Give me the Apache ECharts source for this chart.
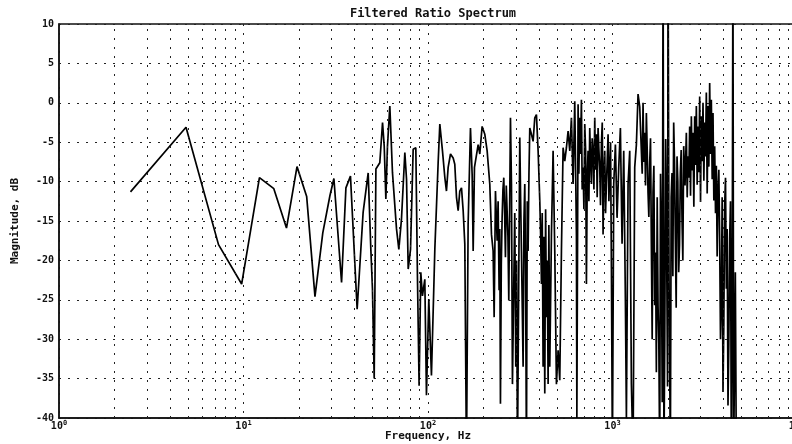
<!DOCTYPE html>
<html>
<head>
<meta charset="utf-8">
<title>Filtered Ratio Spectrum</title>
<script src="https://cdn.jsdelivr.net/npm/echarts@6/dist/echarts.min.js"></script>
<style>
  html, body { margin: 0; padding: 0; background: #fff; }
  #chart { width: 792px; height: 444px; }
</style>
</head>
<body>
<div id="chart"></div>
<script>
// magnitude spectrum, in three frequency bands

// below ~115 Hz
const lowHz = [
  2.44, 4.88, 7.32, 9.77, 12.2, 14.6, 17.1, 19.5, 22.0, 24.4,
  26.9, 29.4, 30.9, 34.0, 35.9, 38.0, 41.3, 44.5, 47.4, 49.0,
  50.0, 51.1, 52.2, 54.8, 56.7, 57.9, 59.1, 60.3, 62.1, 64.2,
  67.5, 69.5, 71.8, 74.9, 76.5, 78.1, 80.4, 83.1, 85.9, 87.7,
  89.5, 91.4, 93.3, 96.1, 98.1, 101.0, 104.4, 108.9, 113.5
];
const lowDb = [
  -11.3, -3.1, -18.0, -23.0, -9.5, -10.9, -15.9, -8.1, -11.9, -24.6,
  -16.5, -11.8, -9.6, -22.8, -10.8, -9.3, -26.2, -13.9, -8.9, -18.6,
  -23.6, -35.0, -8.4, -7.6, -2.5, -5.5, -12.2, -5.5, -0.4, -8.9,
  -16.0, -18.6, -14.8, -6.3, -9.7, -21.1, -18.6, -5.9, -5.7, -22.4,
  -35.9, -21.5, -24.5, -22.4, -37.1, -24.9, -34.6, -18.6, -7.6
];

// ~115 Hz to 1.4 kHz
const midHz = [
  115.9, 119.8, 123.4, 125.9, 128.6, 132.4, 136.9, 139.7, 142.7, 145.7,
  148.7, 151.9, 155.1, 158.3, 161.6, 165.0, 169.9, 173.5, 175.7, 178.6,
  183.1, 187.0, 190.9, 196.5, 203.2, 209.2, 216.2, 220.8, 225.4, 228.3,
  232.1, 237.0, 239.9, 242.9, 244.9, 247.0, 249.6, 252.2, 254.8, 257.5,
  260.2, 262.9, 265.6, 268.4, 271.2, 274.1, 279.9, 283.4, 286.9, 291.7,
  295.3, 299.1, 302.2, 305.4, 310.0, 314.4, 317.6, 321.0, 324.3, 327.7,
  331.1, 334.6, 338.1, 341.7, 345.2, 348.8, 352.5, 356.2, 363.7, 371.3,
  379.1, 387.0, 395.2, 403.5, 408.0, 412.0, 416.0, 420.6, 425.0, 429.5,
  434.0, 438.5, 443.0, 447.7, 452.0, 457.1, 462.0, 466.7, 476.5, 486.5,
  496.7, 507.2, 517.8, 528.7, 539.8, 551.2, 562.7, 574.5, 586.6, 598.9,
  611.5, 624.4, 637.5, 641.0, 650.9, 657.0, 664.6, 671.0, 678.5, 685.0,
  692.7, 700.0, 707.3, 715.0, 722.2, 730.0, 737.3, 745.0, 752.8, 760.0,
  768.7, 776.0, 784.8, 793.0, 801.3, 809.0, 818.1, 826.0, 835.3, 844.0,
  852.8, 861.0, 870.7, 880.0, 889.0, 898.0, 907.7, 917.0, 926.8, 936.0,
  946.3, 956.0, 966.2, 976.0, 986.5, 998.9, 1015.6, 1036.9, 1058.7, 1080.9,
  1103.6, 1126.8, 1150.5, 1174.6, 1189.4, 1214.4, 1239.9, 1266.0, 1292.4, 1319.6,
  1347.3, 1375.6, 1404.6
];
const midDb = [
  -2.7, -6.1, -9.5, -11.2, -8.2, -6.5, -7.0, -7.8, -12.0, -13.7,
  -11.2, -10.8, -13.7, -17.9, -45.0, -15.4, -3.2, -9.1, -18.8, -8.2,
  -8.2, -5.3, -6.5, -3.0, -4.0, -6.1, -10.3, -16.7, -18.8, -27.2,
  -11.2, -17.5, -12.5, -23.8, -16.0, -38.2, -20.5, -14.6, -11.0, -9.5,
  -14.0, -19.6, -10.5, -13.7, -17.0, -25.1, -1.9, -10.3, -35.7, -23.0,
  -14.0, -33.5, -20.0, -45.0, -24.0, -4.4, -12.0, -18.8, -26.0, -33.5,
  -15.0, -10.3, -22.0, -45.0, -12.5, -18.8, -9.0, -3.2, -4.0, -4.9,
  -1.9, -1.5, -6.1, -12.4, -17.0, -23.0, -14.0, -33.5, -17.0, -36.9,
  -13.5, -27.2, -20.0, -35.7, -15.5, -33.5, -25.0, -16.7, -6.1, -18.8,
  -35.7, -31.4, -35.2, -18.8, -5.7, -7.4, -5.7, -3.6, -6.1, -1.9,
  -10.3, 0.2, -16.7, -40.0, -0.2, -9.0, -1.9, -6.5, 0.4, -11.0,
  -8.2, -13.5, -2.7, -6.0, -23.0, -9.0, -6.1, -12.5, -3.2, -7.0,
  -10.3, -4.5, -6.1, -11.0, -1.9, -8.5, -4.0, -12.0, -3.2, -6.0,
  -8.2, -13.0, -5.3, -2.5, -16.7, -9.0, -6.1, -14.0, -10.3, -7.5,
  -4.0, -12.5, -8.2, -5.0, -20.9, -45.0, -10.3, -5.3, -14.6, -8.2,
  -3.2, -17.9, -6.1, -25.1, -40.0, -10.3, -6.1, -35.7, -45.0, -8.2,
  -5.3, 1.1, -0.5
];

// 1.4 kHz up to the end of the record
const highHz = [
  1433.8, 1449, 1464.0, 1479, 1494.7, 1510, 1526.1, 1542, 1558.2, 1574,
  1590.9, 1607, 1624.4, 1641, 1658.4, 1676, 1693.2, 1711, 1728.8, 1747,
  1765.1, 1783, 1802.3, 1821, 1840.1, 1860, 1880, 1900, 1920, 1942.4,
  1958, 1974.9, 1988, 2000, 2024.7, 2058.8, 2080, 2101.9, 2124, 2146.1,
  2168, 2191.2, 2214, 2237.2, 2260, 2284.2, 2308, 2332.2, 2356, 2381.3,
  2406, 2431.3, 2472, 2513.4, 2540, 2566.2, 2593, 2620.2, 2648, 2675.3,
  2703, 2731.5, 2760, 2789.0, 2818, 2847.6, 2877, 2907.4, 2938, 2968.5,
  3000, 3030.9, 3062, 3094.3, 3127, 3159.3, 3192, 3225.7, 3260, 3293.5,
  3328, 3362.7, 3398, 3433.4, 3470, 3505.6, 3542, 3579.2, 3617, 3654.5,
  3692, 3731.3, 3770, 3809.3, 3849, 3889.4, 3930, 3971.1, 4012, 4054.6,
  4097, 4139.8, 4183, 4226.8, 4271, 4315.6, 4360, 4406.3, 4450, 4495.0,
  4536.4, 4631.8, 4689.6
];
const highDb = [
  -0.4, -9.0, 0.0, -7.5, -3.8, -10.5, -1.3, -6.0, -11.4, -14.5,
  -7.6, -4.5, -18.1, -30.0, -11.4, -8.0, -25.7, -19.0, -34.2, -12.0,
  -25.7, -30.5, -45.0, -9.0, -17.3, -38.0, 20.0, -45.0, -30.0, -4.6,
  -12.0, -25.7, -36.0, 20.0, -22.0, -45.0, -12.0, -8.9, -22.0, -2.5,
  -7.5, -17.3, -26.0, -6.8, -10.0, -21.5, -18.0, -8.9, -6.0, -14.8,
  -20.0, -5.5, -10.5, -3.8, -12.0, -6.8, -9.5, -3.0, -11.8, -1.7,
  -8.6, -3.8, -13.2, -1.7, -7.9, -0.4, -10.4, -3.0, -8.8, 0.8,
  -12.6, -1.7, -7.4, 0.0, -9.9, -2.5, -6.8, 1.3, -11.5, -0.4,
  -8.1, 2.5, -6.5, 0.4, -9.7, -1.3, -12.4, -5.5, -14.0, -8.0,
  -19.5, -11.0, -8.5, -17.3, -30.0, -25.7, -12.0, -36.7, -28.0, -13.1,
  -9.5, -23.6, -16.0, -38.4, -30.5, -17.3, -12.5, -45.0, -30.0, 20.0,
  -45.0, -21.5, -45.0
];

// dotted grid positions between the decades
const minorGridHz = [
  2, 3, 4, 5, 6, 7, 8, 9,
  20, 30, 40, 50, 60, 70, 80, 90,
  200, 300, 400, 500, 600, 700, 800, 900,
  2000, 3000, 4000, 5000, 6000, 7000, 8000, 9000
];
const yRange = { min: -40, max: 10, step: 5 };

const freqHz = lowHz.concat(midHz, highHz);
const magDb = lowDb.concat(midDb, highDb);

const chart = echarts.init(document.getElementById('chart'));

const font = '"DejaVu Sans Mono", monospace';
const ink = '#111';
const dotted = { color: '#222', width: 1, type: [2, 7] };

const option = {
  animation: false,
  backgroundColor: '#fff',
  title: {
    text: 'Filtered Ratio Spectrum',
    left: 428,
    textAlign: 'center',
    top: 3,
    textStyle: { fontFamily: font, fontSize: 12, fontWeight: 'bold', color: ink }
  },
  grid: {
    left: 59,
    right: -5,
    top: 24,
    bottom: 26,
    containLabel: false,
    outerBoundsMode: 'none',
    show: true,
    borderColor: ink,
    borderWidth: 1.5
  },
  xAxis: {
    type: 'log',
    logBase: 10,
    min: 1,
    max: 10000,
    name: 'Frequency, Hz',
    nameLocation: 'middle',
    nameGap: 13,
    nameMoveOverlap: false,
    nameTextStyle: { fontFamily: font, fontSize: 11, fontWeight: 'bold', color: ink },
    axisLine: { onZero: false, lineStyle: { color: ink, width: 1.5 } },
    axisTick: { show: false },
    splitLine: { show: true, lineStyle: dotted },
    axisLabel: {
      margin: 2,
      formatter: function (v) {
        const e = Math.round(Math.log10(v));
        return '{b|10}{e|' + e + '}';
      },
      rich: {
        b: { fontFamily: font, fontSize: 10, fontWeight: 'bold', color: ink },
        e: { fontFamily: font, fontSize: 7, fontWeight: 'bold', color: ink, padding: [0, 0, 6, 0] }
      }
    }
  },
  yAxis: {
    type: 'value',
    min: yRange.min,
    max: yRange.max,
    interval: yRange.step,
    name: 'Magnitude, dB',
    nameLocation: 'middle',
    nameGap: 38,
    nameMoveOverlap: false,
    nameTextStyle: { fontFamily: font, fontSize: 11, fontWeight: 'bold', color: ink },
    axisLine: { lineStyle: { color: ink, width: 1.5 } },
    axisTick: { show: false },
    splitLine: { show: true, lineStyle: dotted },
    axisLabel: { fontFamily: font, fontSize: 10, fontWeight: 'bold', color: ink, margin: 5 }
  },
  series: [
    {
      type: 'line',
      data: freqHz.map((f, i) => [f, magDb[i]]),
      showSymbol: false,
      clip: true,
      lineStyle: { color: '#000', width: 1.7 },
      markLine: {
        silent: true,
        symbol: 'none',
        label: { show: false },
        lineStyle: dotted,
        data: minorGridHz.map(f => ({ xAxis: f }))
      },
      z: 3
    }
  ]
};

chart.setOption(option);
</script>
</body>
</html>
